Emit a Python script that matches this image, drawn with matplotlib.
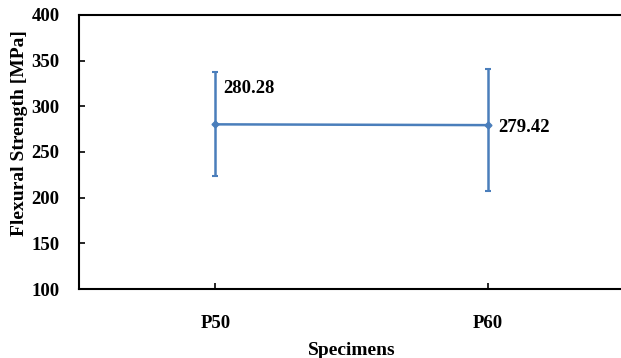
import matplotlib
matplotlib.use("Agg")
import matplotlib.pyplot as plt

categories = ["P50", "P60"]
values = [280.28, 279.42]
err_upper = [57.5, 62.0]
err_lower = [57.0, 72.0]
labels = ["280.28", "279.42"]

plt.rcParams['font.family'] = ['Liberation Serif', 'DejaVu Serif']
plt.rcParams['font.weight'] = 'bold'

fig = plt.figure(figsize=(6.21, 3.58), dpi=100)
ax = fig.add_axes([79/621, 1-289/358, 545.5/621, 274/358])
x = list(range(len(categories)))
color = '#4A7EBB'
ax.errorbar(x, values, yerr=[err_lower, err_upper], color=color, lw=1.8,
            marker='D', ms=3.5, capsize=2.5, elinewidth=1.8, capthick=1.5)

ax.annotate(labels[0], (x[0], values[0]), xytext=(6, 26), textcoords='offset points',
            fontsize=13.5, fontweight='bold', va='center', ha='left')
ax.annotate(labels[1], (x[1], values[1]), xytext=(7, -1.5), textcoords='offset points',
            fontsize=13.5, fontweight='bold', va='center', ha='left')

ax.set_xlim(-0.5, 1.5)
ax.set_ylim(100, 400)
ax.set_yticks(range(100, 401, 50))
ax.set_xticks(x)
ax.set_xticklabels(categories)
ax.tick_params(direction='in', length=4, width=1.2, labelsize=13.5)
ax.tick_params(axis='y', pad=14)
ax.tick_params(axis='x', pad=19)
for lab in ax.get_xticklabels() + ax.get_yticklabels():
    lab.set_fontweight('bold')
for s in ax.spines.values():
    s.set_linewidth(1.5)
ax.set_xlabel("Specimens", fontsize=14, fontweight='bold', labelpad=7)
ax.set_ylabel("Flexural Strength [MPa]", fontsize=14, fontweight='bold')
ax.yaxis.set_label_coords(-51/545.5, 0.57)

fig.savefig("out.png", dpi=100)
